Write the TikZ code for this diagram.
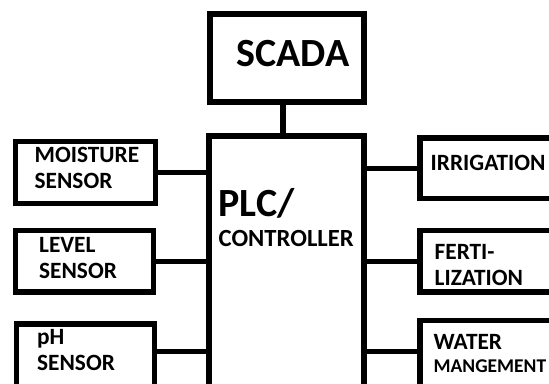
\documentclass[tikz,border=0pt]{standalone}
\usepackage{fontspec}
\setmainfont{Carlito}
\usetikzlibrary{positioning,calc}

\begin{document}
\begin{tikzpicture}[x=0.75pt,y=-0.75pt,line width=4pt,
  unit/.style={draw,rectangle,inner sep=0pt,outer sep=0pt},
  tag/.style={anchor=base west,inner sep=0pt,align=left,
    font=\bfseries\fontsize{17.5}{19.3}\selectfont}]
\useasboundingbox (0,0) rectangle (549,383);
\clip (0,0) rectangle (549,383);
% boxes
\node[unit,minimum width=115.5pt,minimum height=66pt] (scada) at (287,58) {};
\node[unit,minimum width=116.25pt,minimum height=198pt] (plc) at (286.5,268) {};
\node[unit,minimum width=104.7pt,minimum height=46.7pt] (moist) at (85.5,172.6) {};
\node[unit,minimum width=103.7pt,minimum height=46.3pt] (level) at (84.4,261.2) {};
\node[unit,minimum width=103.7pt,minimum height=52.5pt] (ph) at (85.5,359) {};
\node[unit,minimum width=120pt,minimum height=45.5pt] (irr) at (500,168.4) {};
\node[unit,minimum width=120pt,minimum height=46pt] (fert) at (500,261.4) {};
\node[unit,minimum width=120pt,minimum height=54pt] (water) at (500,356.7) {};
% texts (second line sets the base)
\node[tag,font=\bfseries\fontsize{30}{32}\selectfont] (scadatxt) at (234,66.7) {SCADA};
\node[tag,font=\bfseries\fontsize{30}{32}\selectfont] (plctxt) at (216,216) {PLC/};
\node[tag,font=\bfseries\fontsize{18.5}{20}\selectfont] (ctrltxt) at (216,246) {CONTROLLER};
\node[tag] (moisttxt) at (32,188.5) {MOISTURE\\SENSOR};
\node[tag] (leveltxt) at (36.5,278.3) {LEVEL\\SENSOR};
\node[tag] (phtxt) at (34.5,370) {pH\\SENSOR};
\node[tag] (irrtxt) at (428,170.7) {IRRIGATION};
\node[tag] (ferttxt) at (432,285) {FERTI-\\LIZATION};
\node[tag] (watertxt) at (431,349.3) {WATER};
\node[tag,font=\bfseries\fontsize{14.6}{17}\selectfont] (mgmttxt) at (431,372.3) {MANGEMENT};
% links
\draw ([xshift=-3pt]scada.south) -- ([xshift=-3pt]scada.south |- plc.north);
\draw (moist.east) -- (moist.east -| plc.west);
\draw (level.east) -- (level.east -| plc.west);
\draw ([yshift=5.5pt]ph.east) -- ([yshift=5.5pt]ph.east -| plc.west);
\draw (plc.east |- irr.west) -- (irr.west);
\draw (plc.east |- fert.west) -- (fert.west);
\draw ([yshift=3.75pt]water.west -| plc.east) -- ([yshift=3.75pt]water.west);
\end{tikzpicture}
\end{document}
